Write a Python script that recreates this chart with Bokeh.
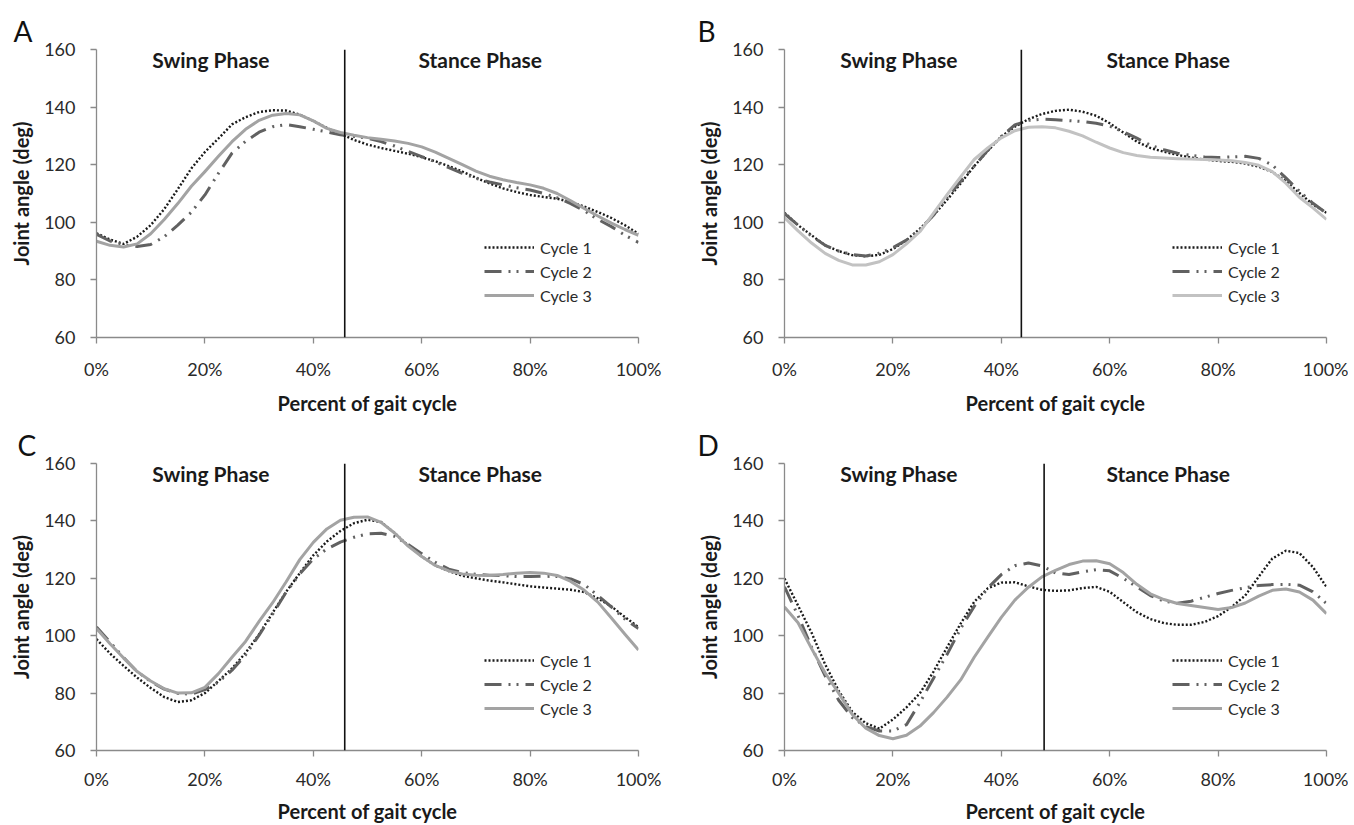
from bokeh.plotting import figure
from bokeh.models import (Range1d, FixedTicker, Span, Label, Legend, LegendItem)
from bokeh.layouts import column, row
from bokeh.embed import file_html
from bokeh.resources import INLINE

# ---------------- data ----------------
pct = [0, 2.5, 5, 7.5, 10, 12.5, 15, 17.5, 20, 22.5, 25, 27.5, 30, 32.5, 35, 37.5,
       40, 42.5, 45, 47.5, 50, 52.5, 55, 57.5, 60, 62.5, 65, 67.5, 70, 72.5, 75,
       77.5, 80, 82.5, 85, 87.5, 90, 92.5, 95, 97.5, 100]

a_cycle1 = [96.2, 94, 92.5, 95, 99, 104.6, 111.5, 118.7, 124.4, 129.1, 134, 136.5, 138.3, 138.9,
            138.8, 137.4, 135.2, 132.8, 130.8, 128.6, 127, 125.8, 124.8, 123.8, 122.6, 121.2,
            119.5, 117.6, 115.5, 113.5, 111.8, 110.5, 109.5, 108.8, 108.2, 107, 105.5, 103.6,
            101.5, 99, 96]
a_cycle2 = [95.8, 93.5, 92.2, 91.6, 92.3, 95, 99, 103.5, 109.5, 117, 124, 128.1, 131.3, 133.2,
            133.9, 133.2, 132.3, 131.4, 130.4, 129.8, 129.2, 128, 126.5, 124.6, 122.8, 121,
            119, 117, 115.3, 114, 113, 112, 111.2, 110, 108.5, 106.5, 104, 101, 98.5, 95.5, 93]
a_cycle3 = [93.4, 92, 91.4, 92.5, 96, 101, 106.5, 112.5, 117.6, 122.9, 128, 132.3, 135.4, 137.2,
            137.8, 137.3, 135.2, 132.6, 131.2, 130.2, 129.4, 128.8, 128.2, 127.4, 126.2, 124.4,
            122.2, 120, 117.8, 116, 114.8, 113.8, 113, 111.8, 110, 107.5, 104.8, 102.2, 99.7,
            97.5, 95.5]

b_cycle1 = [103.3, 99, 95.5, 92, 90, 88.6, 88.2, 88.7, 90.7, 93.8, 97.8, 102.4, 107.8, 113.5,
            119.5, 124.8, 129.8, 133.2, 135.8, 137.6, 138.7, 139.1, 138.4, 137, 134.4, 131.2,
            128, 125.8, 124.5, 123.4, 122.5, 121.8, 121.3, 121, 120.4, 119.3, 117.5, 114.3,
            110.2, 106.2, 103.3]
b_cycle2 = [103, 99, 95.2, 92, 90, 88.8, 88.3, 89.3, 91.2, 93.8, 97.5, 102.5, 108.5, 114.2,
            119.5, 125, 129.8, 133.8, 135.4, 135.8, 135.6, 135.3, 135, 134.4, 133.4, 131.4,
            129.2, 126.8, 125.2, 124, 123.2, 122.7, 122.5, 122.7, 122.9, 122.2, 119.9, 115.4,
            110.8, 106.6, 103.2]
b_cycle3 = [101.6, 97, 92.8, 89.2, 86.8, 85.2, 85.2, 86.3, 88.8, 92.5, 96.8, 103.2, 109.6, 115.8,
            121.8, 125.8, 129.3, 131.8, 133, 133.2, 132.8, 131.6, 130, 127.8, 125.8, 124.2,
            123.2, 122.6, 122.3, 122.1, 122, 121.8, 121.6, 121.4, 120.8, 119.8, 117.6, 113.6,
            108.7, 105, 101]

c_cycle1 = [98.8, 93.8, 89.5, 85.4, 81.8, 78.6, 76.9, 77.5, 80, 84.2, 88.6, 94, 100.5, 108,
            115.3, 121.8, 128, 132.8, 136.5, 139.2, 140.4, 139.6, 135.8, 131.4, 127.6, 124.5,
            122.5, 120.9, 120, 119.2, 118.6, 117.9, 117.2, 116.8, 116.4, 116, 115.2, 113, 110.2,
            106.5, 103]
c_cycle2 = [103, 97.8, 92.4, 87.5, 84, 81.4, 79.9, 79.6, 81.2, 83.8, 88, 93.3, 100.2, 107.5,
            115.2, 121.5, 126.8, 130.2, 132.6, 134.3, 135.5, 135.7, 134.6, 131.8, 128.6, 125.6,
            123.2, 122, 121.4, 121.1, 120.9, 120.6, 120.6, 120.7, 120.6, 119.8, 117.8, 114, 110,
            105.8, 102.5]
c_cycle3 = [102.5, 97.2, 92.2, 87.5, 84.2, 81.5, 80, 80.1, 82, 86.8, 92.5, 98, 105, 111.5, 118.8,
            126.5, 132.5, 137.2, 140.2, 141.3, 141.4, 139.5, 135.8, 131.2, 127.6, 124.5, 122.6,
            121.5, 121.1, 121, 121.3, 121.8, 122, 121.8, 121, 118.9, 115.8, 111.7, 106.2, 100.5,
            95]

d_cycle1 = [119.9, 110.5, 101, 90, 80.8, 73.5, 69.5, 67.6, 70.8, 75, 80, 87.5, 96, 104.2, 111.8,
            116.5, 118.5, 118.6, 117.2, 116, 115.6, 115.8, 116.6, 117, 115.3, 111.7, 108.2,
            105.8, 104.4, 103.8, 103.8, 104.8, 106.8, 110, 114, 120.6, 126.9, 129.6, 128.8,
            123.9, 117]
d_cycle2 = [117, 107, 96, 86, 77.5, 71.5, 68.3, 66.8, 66.8, 69, 76.8, 85.2, 93.5, 102.5, 110.2,
            116.6, 121.3, 124.4, 125.3, 124.3, 121.9, 121.3, 122.3, 123, 122.6, 120, 117, 114,
            112, 111.3, 112, 113.4, 114.7, 115.8, 116.7, 117.5, 117.8, 117.9, 117.6, 115.3, 111.2]
d_cycle3 = [110, 104.5, 95.5, 87, 80, 72.6, 67.8, 65.2, 64.1, 65.3, 68.5, 73.2, 78.6, 84.6, 92.5,
            99.5, 106.4, 112.4, 116.9, 120.5, 122.8, 124.8, 126, 126.1, 125.1, 122, 117.9, 114.6,
            112.6, 111.2, 110.5, 109.8, 109.1, 109.8, 111.4, 113.8, 115.8, 116.3, 115.2, 112.4,
            107.7]

phase_split = [45.8, 43.7, 45.8, 47.9]          # swing/stance boundary for A, B, C, D
panel_letters = ["A", "B", "C", "D"]
series_names = ["Cycle 1", "Cycle 2", "Cycle 3"]
phase_names = ["Swing Phase", "Stance Phase"]
phase_x = [21.1, 70.8]
x_ticks = [0, 20, 40, 60, 80, 100]
x_tick_labels = ["0%", "20%", "40%", "60%", "80%", "100%"]
y_ticks = [60, 80, 100, 120, 140, 160]
x_title = "Percent of gait cycle"
y_title = "Joint angle (deg)"

FONT = "Lato"


def make_panel(letter, cycles, split, c3_color, left, right, top, bottom, fw, fh,
               lab_std, title_std, letter_off):
    p = figure(frame_width=fw, frame_height=fh, output_backend="svg", toolbar_location=None,
               x_range=Range1d(0, 100), y_range=Range1d(60, 160),
               min_border_left=left, min_border_right=right,
               min_border_top=top, min_border_bottom=bottom)
    p.outline_line_color = None
    p.xgrid.grid_line_color = None
    p.ygrid.grid_line_color = None
    p.background_fill_color = "white"

    p.title.text = letter
    p.title.align = "left"
    p.title.offset = letter_off
    p.title.standoff = 3
    p.title.text_font = FONT
    p.title.text_font_style = "normal"
    p.title.text_font_size = "28px"
    p.title.text_color = "#111111"

    for ax in (p.xaxis[0], p.yaxis[0]):
        ax.axis_line_color = "#8a8a8a"
        ax.axis_line_width = 1.3
        ax.major_tick_line_color = "#8a8a8a"
        ax.major_tick_line_width = 1.3
        ax.major_tick_in = 0
        ax.major_tick_out = 6
        ax.minor_tick_line_color = None
        ax.major_label_text_font = FONT
        ax.major_label_text_font_size = "18px"
        ax.major_label_text_color = "#2a2a2a"
        ax.axis_label_text_font = FONT
        ax.axis_label_text_font_style = "bold"
        ax.axis_label_text_font_size = "20px"
        ax.axis_label_text_color = "#1a1a1a"

    p.xaxis.ticker = FixedTicker(ticks=x_ticks)
    p.xaxis.major_label_overrides = {t: l for t, l in zip(x_ticks, x_tick_labels)}
    p.yaxis.ticker = FixedTicker(ticks=y_ticks)
    p.xaxis.axis_label = x_title
    p.yaxis.axis_label = y_title
    p.xaxis.major_label_standoff = lab_std
    p.xaxis.axis_label_standoff = title_std
    p.yaxis.major_label_standoff = 15
    p.yaxis.axis_label_standoff = 8

    styles = [
        dict(line_color="#1a1a1a", line_width=2.4, line_dash="2 2"),
        dict(line_color="#616161", line_width=3, line_dash="17 7 2 6 2 7"),
        dict(line_color=c3_color, line_width=3, line_dash="solid"),
    ]
    rends = []
    for vals, st in zip(cycles, styles):
        r = p.line(pct, vals, line_join="round", **st)
        rends.append(r)

    p.add_layout(Span(location=split, dimension="height", line_color="#111111",
                      line_width=1.6))

    for name, xx in zip(phase_names, phase_x):
        p.add_layout(Label(x=xx, y=156.5, text=name, text_align="center",
                           text_baseline="middle", text_font=FONT,
                           text_font_style="bold", text_font_size="21px",
                           text_color="#1a1a1a"))

    legend = Legend(items=[LegendItem(label=n, renderers=[r])
                           for n, r in zip(series_names, rends)],
                    location=(388, 30), padding=0, margin=0, spacing=0,
                    label_height=24, glyph_height=20, glyph_width=50,
                    label_standoff=6, border_line_alpha=0,
                    background_fill_alpha=0, label_text_font=FONT,
                    label_text_font_size="16px", label_text_color="#2a2a2a")
    p.add_layout(legend)
    return p


pa = make_panel(panel_letters[0], [a_cycle1, a_cycle2, a_cycle3], phase_split[0], "#a3a3a3",
                96, 37, 49, 79, 542, 288, 14, 8, -83)
pb = make_panel(panel_letters[1], [b_cycle1, b_cycle2, b_cycle3], phase_split[1], "#c2c2c2",
                109, 22, 49, 79, 542, 288, 14, 8, -87)
pc = make_panel(panel_letters[2], [c_cycle1, c_cycle2, c_cycle3], phase_split[2], "#a3a3a3",
                96, 37, 46, 75, 542, 287, 11, 6, -79)
pd = make_panel(panel_letters[3], [d_cycle1, d_cycle2, d_cycle3], phase_split[3], "#a3a3a3",
                109, 22, 46, 75, 542, 287, 11, 6, -87)

layout = column(row(pa, pb, spacing=0), row(pc, pd, spacing=0), spacing=0)
open("out.html", "w").write(file_html(layout, INLINE))
